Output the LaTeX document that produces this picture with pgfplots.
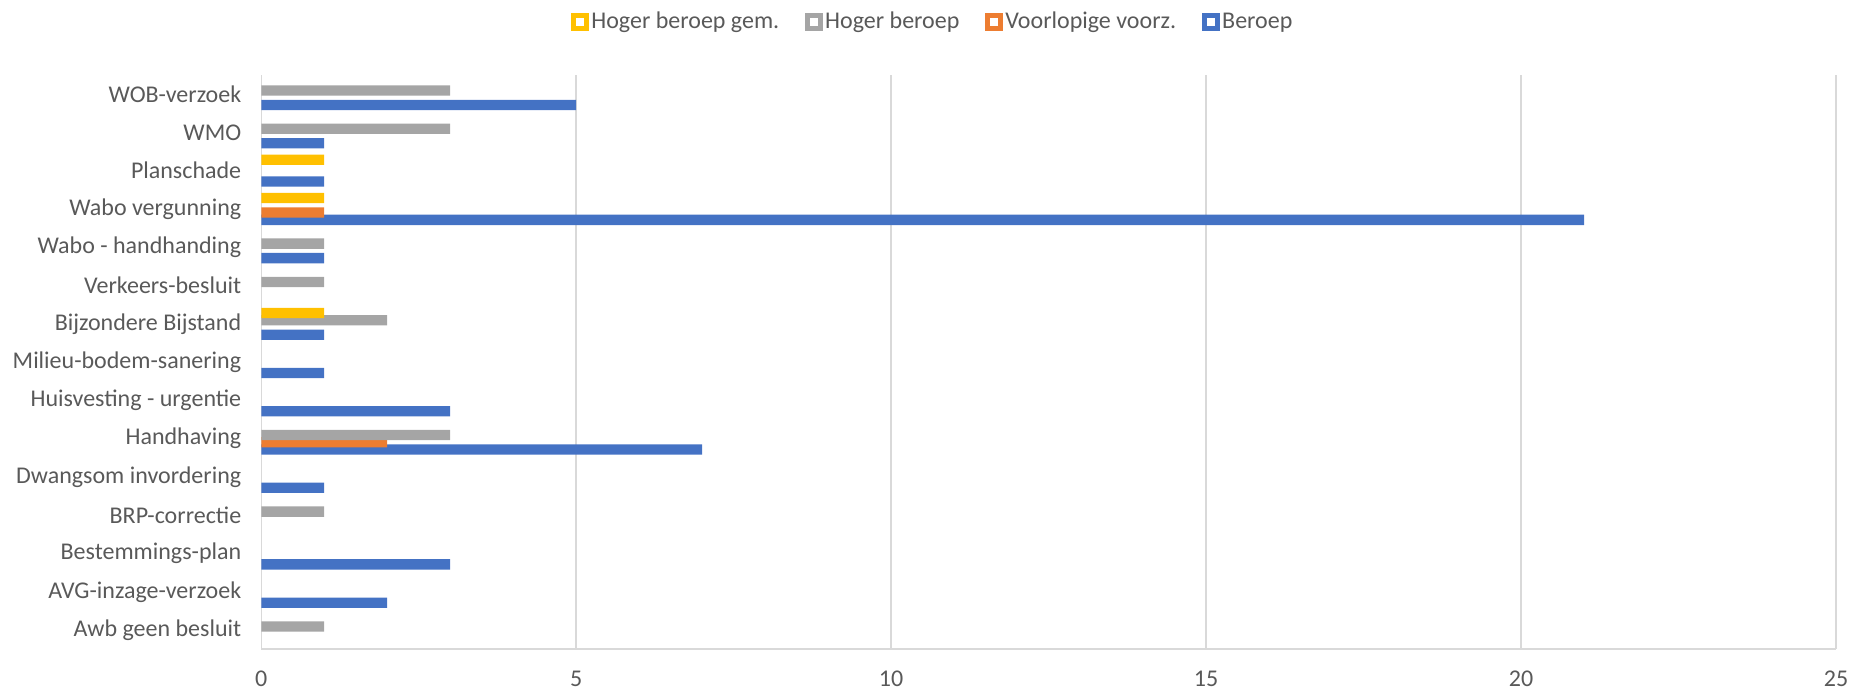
\documentclass[border=0pt]{standalone}
\usepackage{fontspec}
\setmainfont{Carlito}
\usepackage{pgfplots}
\pgfplotsset{compat=1.18}

\definecolor{beroep}{HTML}{4472C4}
\definecolor{voorl}{HTML}{ED7D31}
\definecolor{hoger}{HTML}{A5A5A5}
\definecolor{gem}{HTML}{FFC000}
\definecolor{txt}{HTML}{595959}
\definecolor{gridc}{HTML}{D9D9D9}

\begin{document}
\begin{tikzpicture}
\begin{axis}[
    name=ax,
    scale only axis,
    width=787.5pt, height=287.15pt,
    xbar, bar width=5.15pt,
    xmin=0, xmax=25,
    ymin=-0.5, ymax=14.5,
    xtick={0,5,...,25},
    ytick={0,...,14},
    yticklabels={Awb geen besluit, AVG-inzage-verzoek, Bestemmings-plan,
        BRP-correctie, Dwangsom invordering, Handhaving, Huisvesting - urgentie,
        Milieu-bodem-sanering, Bijzondere Bijstand, Verkeers-besluit,
        Wabo - handhanding, Wabo vergunning, Planschade, WMO, WOB-verzoek},
    major tick length=0pt,
    xticklabel shift=7.5pt,
    yticklabel shift=6.5pt,
    /pgf/number format/assume math mode=true,
    ticklabel style={font=\fontsize{12}{14}\selectfont, text=txt},
    axis x line*=bottom, axis y line*=left,
    axis line style={draw=gridc, line width=0.75pt, -},
    xmajorgrids,
    major grid style={draw=gridc, line width=0.75pt},
    legend columns=4,
    reverse legend,
    legend style={draw=none, fill=none, at={(0.4265,1.0923)}, anchor=center,
        font=\fontsize{12}{14}\selectfont, text=txt,
        nodes={inner sep=1pt},
        /tikz/every even column/.append style={column sep=12pt},
        inner sep=0pt},
    legend cell align=left,
    legend image code/.code={
        \fill[#1,draw=none] (0pt,-4.5pt) rectangle (9pt,4.5pt);
        \fill[white] (2.5pt,-2pt) rectangle (6.5pt,2pt);
    },
]
% Beroep
\addplot[fill=beroep, draw=none, bar shift=-5.45pt] coordinates {
    (2,1) (3,2) (1,4) (7,5) (3,6) (1,7) (1,8) (1,10) (21,11) (1,12) (1,13) (5,14)
};
% Voorlopige voorz.
\addplot[fill=voorl, draw=none, bar shift=-1.8pt] coordinates {
    (2,5) (1,11)
};
% Hoger beroep
\addplot[fill=hoger, draw=none, bar shift=1.8pt] coordinates {
    (1,0) (1,3) (3,5) (2,8) (1,9) (1,10) (3,13) (3,14)
};
% Hoger beroep gem.
\addplot[fill=gem, draw=none, bar shift=5.45pt] coordinates {
    (1,8) (1,11) (1,12)
};
\legend{Beroep, Voorlopige voorz., Hoger beroep, Hoger beroep gem.}
\end{axis}
\pgfresetboundingbox
\path[use as bounding box] ([shift={(-130.65pt,-20.85pt)}]ax.south west)
    rectangle ([shift={(7pt,37.5pt)}]ax.north east);
\end{tikzpicture}
\end{document}
